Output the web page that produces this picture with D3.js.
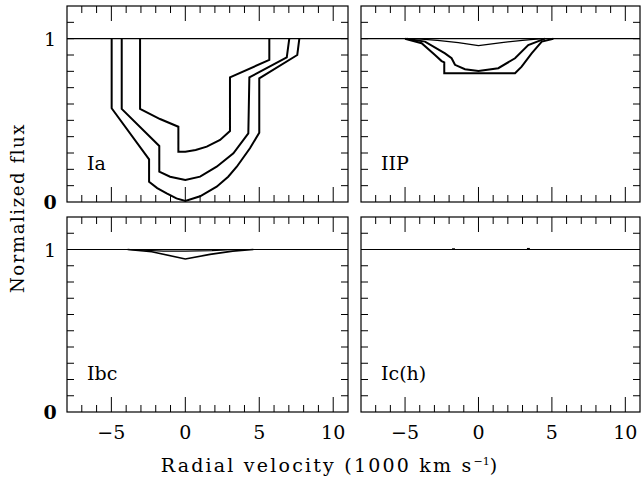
<!DOCTYPE html>
<html>
<head>
<meta charset="utf-8">
<script src="https://cdn.jsdelivr.net/npm/d3@7"></script>
<style>
  body { margin: 0; background: #fff; }
  text { font-family: "DejaVu Serif", serif; fill: #000; }
</style>
</head>
<body>
<div id="container"></div>
<script>
/**
 * CONSTANTS AND GLOBALS
 * */
const width = 642,
  height = 481;

const xDomain = [-8, 11],
  yDomain = [0, 1.2];

const xTickLabels = [-5, 0, 5, 10];
const yTickLabels = [0, 1];

// panel names, row/col
const panelNames = ["Ia", "IIP", "Ibc", "Ic(h)"];

// line profiles: [velocity (1000 km/s), normalized flux]
const iaLow = [[-4.98, 1], [-4.98, 0.574], [-2.45, 0.261], [-2.45, 0.124], [-1.9, 0.085], [-1.26, 0.053],
  [-0.6, 0.022], [0, 0.006], [1.0, 0.035], [2.12, 0.094], [2.9, 0.155], [3.48, 0.216], [4.37, 0.329],
  [5.0, 0.424], [5.0, 0.757], [7.57, 0.9], [7.71, 1]];
const iaMid = [[-4.3, 1], [-4.3, 0.57], [-1.76, 0.343], [-1.76, 0.186], [-1.03, 0.155], [0, 0.135],
  [1.0, 0.155], [2.12, 0.216], [3.25, 0.298], [4.26, 0.42], [4.33, 0.763], [6.86, 0.886], [7.03, 1]];
const iaHigh = [[-3.06, 1], [-3.06, 0.57], [-1.71, 0.508], [-0.47, 0.461], [-0.47, 0.308], [0, 0.308],
  [0.7, 0.318], [1.45, 0.339], [2.35, 0.38], [3.02, 0.435], [3.02, 0.763], [5.68, 0.87], [5.68, 1]];

const iipDeep = [[-5.0, 1], [-3.87, 0.972], [-2.96, 0.9], [-2.51, 0.863], [-2.33, 0.855], [-2.33, 0.788],
  [2.49, 0.788], [2.94, 0.829], [3.62, 0.91], [4.31, 0.982], [5.1, 1]];
const iipMid = [[-4.9, 1], [-3.64, 0.982], [-2.28, 0.91], [-1.83, 0.88], [-1.6, 0.84], [-0.92, 0.813],
  [0, 0.802], [1.35, 0.819], [2.49, 0.88], [3.39, 0.961], [4.53, 1]];
const iipShallow = [[-4.33, 1], [-2.8, 0.99], [-1.37, 0.976], [0, 0.957], [1.58, 0.976], [3.0, 0.99], [4.31, 1]];

const ibcDeep = [[-3.9, 1], [-2.27, 0.986], [0, 0.942], [1.67, 0.97], [3.2, 0.99], [4.6, 1]];
const ibcShallow = [[-3.85, 1], [-1.49, 0.99], [0, 0.99], [1.8, 0.993], [3.37, 1]];

const ichLine = [[-1.8, 1.003], [-1.6, 1.003]];
const ichLine2 = [[3.3, 1.005], [3.5, 1.005]];

// which profiles go in which panel
const panelCurves = [
  [iaLow, iaMid, iaHigh],
  [iipDeep, iipMid, iipShallow],
  [ibcDeep, ibcShallow],
  [ichLine, ichLine2]
];
const panelCurveWidths = [
  [2, 2, 2],
  [2, 2, 1.3],
  [1.6, 1.2],
  [1.5, 1.5]
];

// panel boxes in pixels
const colX = [[67, 348], [361, 640]];
const rowY = [[6, 202], [217, 412]];

let svg;

init();

function init() {
  svg = d3.select("#container")
    .append("svg")
    .attr("width", width)
    .attr("height", height)
    .style("background-color", "#fff");

  panelNames.forEach((name, i) => {
    const col = i % 2, row = Math.floor(i / 2);
    const x = d3.scaleLinear().domain(xDomain).range(colX[col]);
    const y = d3.scaleLinear().domain(yDomain).range([rowY[row][1], rowY[row][0]]);
    const g = svg.append("g");

    const x0 = colX[col][0], x1 = colX[col][1];
    const y0 = rowY[row][0], y1 = rowY[row][1];

    // ticks
    const xt = d3.range(-7, 11);
    const yt = d3.range(1, 12).map(d => d / 10);
    g.selectAll(".xtb").data(xt).join("line")
      .attr("x1", d => x(d)).attr("x2", d => x(d))
      .attr("y1", y1).attr("y2", d => y1 - (d % 5 === 0 ? 15 : 7))
      .attr("stroke", "#000").attr("stroke-width", 1);
    g.selectAll(".xtt").data(xt).join("line")
      .attr("x1", d => x(d)).attr("x2", d => x(d))
      .attr("y1", y0).attr("y2", d => y0 + (d % 5 === 0 ? 15 : 7))
      .attr("stroke", "#000").attr("stroke-width", 1);
    g.selectAll(".ytl").data(yt).join("line")
      .attr("x1", x0).attr("x2", x0 + 7)
      .attr("y1", d => y(d)).attr("y2", d => y(d))
      .attr("stroke", "#000").attr("stroke-width", 1);
    g.selectAll(".ytr").data(yt).join("line")
      .attr("x1", x1).attr("x2", x1 - 7)
      .attr("y1", d => y(d)).attr("y2", d => y(d))
      .attr("stroke", "#000").attr("stroke-width", 1);

    // continuum
    g.append("line")
      .attr("x1", x(xDomain[0])).attr("x2", x(xDomain[1]))
      .attr("y1", y(1)).attr("y2", y(1))
      .attr("stroke", "#000").attr("stroke-width", 1.2);

    // profiles
    const line = d3.line().x(d => x(d[0])).y(d => y(d[1]));
    panelCurves[i].forEach((c, k) => {
      g.append("path")
        .attr("d", line(c))
        .attr("fill", "none")
        .attr("stroke", "#000")
        .attr("stroke-width", panelCurveWidths[i][k])
        .attr("stroke-linejoin", "miter");
    });

    // frame
    g.append("rect")
      .attr("x", x0).attr("y", y0)
      .attr("width", x1 - x0).attr("height", y1 - y0)
      .attr("fill", "none").attr("stroke", "#000").attr("stroke-width", 1.2);

    g.append("text")
      .attr("x", x0 + 20).attr("y", y1 - 32)
      .attr("font-size", 19)
      .text(name);

    if (col === 0) {
      g.selectAll(".yl").data(yTickLabels).join("text")
        .attr("x", 50).attr("y", d => y(d) + 7)
        .attr("text-anchor", "middle")
        .attr("font-size", 19)
        .style("font-weight", d => d === 0 ? "bold" : "normal")
        .text(d => d);
    }
    if (row === 1) {
      g.selectAll(".xl").data(xTickLabels).join("text")
        .attr("x", d => x(d)).attr("y", 439)
        .attr("text-anchor", "middle")
        .attr("font-size", 19)
        .text(d => d < 0 ? "\u2212" + Math.abs(d) : d);
    }
  });

  // axis titles
  const xt = svg.append("text")
    .attr("x", 330).attr("y", 472)
    .attr("text-anchor", "middle")
    .attr("font-size", 19)
    .style("letter-spacing", "2.2px");
  xt.append("tspan").text("Radial velocity (1000 km s");
  xt.append("tspan").attr("dy", -7).attr("font-size", 11).style("letter-spacing", "0px").text("\u22121");
  xt.append("tspan").attr("dy", 7).text(")");

  svg.append("text")
    .attr("transform", "translate(24,208) rotate(-90)")
    .attr("text-anchor", "middle")
    .attr("font-size", 18)
    .style("letter-spacing", "1.6px")
    .text("Normalized flux");
}
</script>
</body>
</html>
